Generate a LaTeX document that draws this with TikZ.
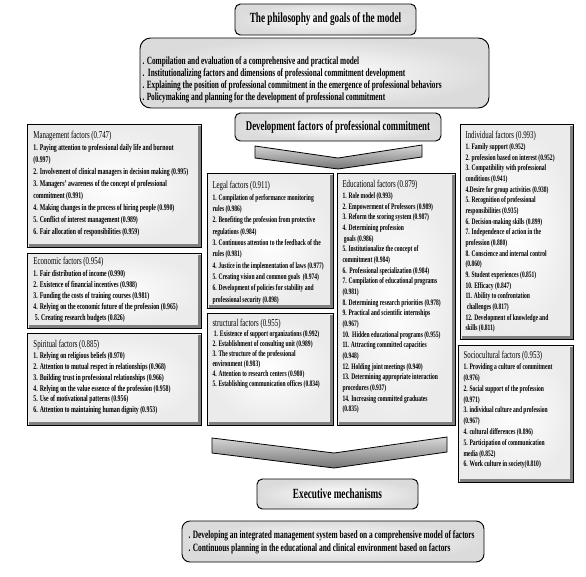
\documentclass[tikz,border=0pt]{standalone}
\usepackage{fontspec}
\setmainfont[FakeStretch=0.66]{Liberation Serif}
\tikzset{every picture/.style={line width=0.75pt}}
\tikzset{
  roundbox/.style={draw=black, line width=0.7, rounded corners=4, inner color=white, outer color=black!14},
  factorbox/.style={draw=black, line width=0.6, inner color=white, outer color=black!8},
  edgeshade/.style={draw=black!50, line width=1.8},
  chevron/.style={draw=black, line width=0.6, top color=black!15, bottom color=black!55},
  titletext/.style={inner sep=0, font=\fontsize{10.5}{12}\selectfont\bfseries},
  listtext/.style={inner sep=0, align=left, anchor=north west},
  factortext/.style={inner sep=0, align=left, anchor=north west}
}
\newcommand{\headline}[1]{{\mdseries\fontsize{7.8}{9}\selectfont #1}}

\begin{document}
\begin{tikzpicture}[x=0.75pt,y=0.75pt,yscale=-1,xscale=1]
\useasboundingbox (0,0) rectangle (586,576);

%Shape: Rounded Rect
\draw [roundbox] (235,4) rectangle (416,35);
% Text Node
\node (philo) [titletext] at (325.5,19.5) {The philosophy and goals of the model};

%Shape: Rounded Rect
\draw [roundbox, rounded corners=8] (140,38) rectangle (489,108);
% Text Node
\node (goals) [listtext, font=\fontsize{8.3}{9}\selectfont\bfseries] at (142,56) {. Compilation and evaluation of a comprehensive and practical model\\
.\ \ Institutionalizing factors and dimensions of professional commitment development\\
. Explaining the position of professional commitment in the emergence of professional behaviors\\
. Policymaking and planning for the development of professional commitment};

%Shape: Rounded Rect
\draw [roundbox] (235,113) rectangle (441,141);
% Text Node
\node (devel) [titletext, font=\fontsize{10}{12}\selectfont\bfseries] at (338,127) {Development factors of professional commitment};

%Shape: Chevron
\draw [chevron] (255,146) -- (338,158) -- (422,145) -- (422,157) -- (338,169) -- (255,158) -- cycle;

%Shape: Rectangle
\draw [factorbox] (27,124) rectangle (201,247);
\draw [edgeshade] (29,245.5) -- (199.5,245.5) -- (199.5,126);
% Text Node
\node (mgmt) [factortext, font=\fontsize{6.6}{9}\selectfont\bfseries] at (33,131) {\headline{Management factors (0.747)}\\
1. Paying attention to professional daily life and burnout\\
(0.997)\\
2. Involvement of clinical managers in decision making (0.995)\\
3. Managers' awareness of the concept of professional\\
commitment (0.991)\\
4. Making changes in the process of hiring people (0.990)\\
5. Conflict of interest management (0.989)\\
6. Fair allocation of responsibilities (0.959)};

%Shape: Rectangle
\draw [factorbox] (27,253) rectangle (201,328);
\draw [edgeshade] (29,326.5) -- (199.5,326.5) -- (199.5,255);
% Text Node
\node (econ) [factortext, font=\fontsize{6.6}{8.4}\selectfont\bfseries] at (33,257) {\headline{Economic factors (0.954)}\\
1. Fair distribution of income (0.990)\\
2. Existence of financial incentives (0.988)\\
3. Funding the costs of training courses (0.981)\\
4. Relying on the economic future of the profession (0.965)\\
\ 5. Creating research budgets (0.826)};

%Shape: Rectangle
\draw [factorbox] (27,333) rectangle (201,425);
\draw [edgeshade] (29,423.5) -- (199.5,423.5) -- (199.5,335);
% Text Node
\node (spirit) [factortext, font=\fontsize{6.6}{8.1}\selectfont\bfseries] at (33,340) {\headline{Spiritual factors (0.885)}\\
1. Relying on religious beliefs (0.970)\\
2. Attention to mutual respect in relationships (0.968)\\
3. Building trust in professional relationships (0.966)\\
4. Relying on the value essence of the profession (0.958)\\
5. Use of motivational patterns (0.956)\\
6. Attention to maintaining human dignity (0.953)};

%Shape: Rectangle
\draw [factorbox] (207,173) rectangle (333,308);
\draw [edgeshade] (209,306.5) -- (331.5,306.5) -- (331.5,175);
% Text Node
\node (legal) [factortext, font=\fontsize{6.3}{8.5}\selectfont\bfseries] at (212,181) {\headline{Legal factors (0.911)}\\
1. Compilation of performance monitoring\\
rules (0.986)\\
2. Benefiting the profession from protective\\
regulations (0.984)\\
3. Continuous attention to the feedback of the\\
rules (0.981)\\
4. Justice in the implementation of laws (0.977)\\
5. Creating vision and common goals\ \ (0.974)\\
6. Development of policies for stability and\\
professional security (0.898)};

%Shape: Rectangle
\draw [factorbox] (207,313) rectangle (333,425);
\draw [edgeshade] (209,423.5) -- (331.5,423.5) -- (331.5,315);
% Text Node
\node (struct) [factortext, font=\fontsize{6.3}{7.5}\selectfont\bfseries] at (212,319) {\headline{structural factors (0.955)}\\
\ 1. Existence of support organizations (0.992)\\
2. Establishment of consulting unit (0.989)\\
3. The structure of the professional\\
environment (0.983)\\
4. Attention to research centers (0.980)\\
5. Establishing communication offices (0.834)};

%Shape: Rectangle
\draw [factorbox] (337,173) rectangle (455,425);
\draw [edgeshade] (339,423.5) -- (453.5,423.5) -- (453.5,175);
% Text Node
\node (educ) [factortext, font=\fontsize{6.3}{8}\selectfont\bfseries] at (342,180) {\headline{Educational factors (0.879)}\\
1. Role model (0.993)\\
2. Empowerment of Professors (0.989)\\
3. Reform the scoring system (0.987)\\
4. Determining profession\\
\ goals (0.986)\\
5. Institutionalize the concept of\\
commitment (0.984)\\
6.\ \ Professional specialization (0.984)\\
7. Compilation of educational programs\\
(0.981)\\
8. Determining research priorities (0.978)\\
9. Practical and scientific internships\\
(0.967)\\
10.\ \ Hidden educational programs (0.955)\\
11. Attracting committed capacities\\
(0.948)\\
12. Holding joint meetings (0.940)\\
13. Determining appropriate interaction\\
procedures (0.937)\\
14. Increasing committed graduates\\
(0.835)};

%Shape: Rectangle
\draw [factorbox] (460,124) rectangle (573,339);
\draw [edgeshade] (462,337.5) -- (571.5,337.5) -- (571.5,126);
% Text Node
\node (indiv) [factortext, font=\fontsize{6.3}{8}\selectfont\bfseries] at (465,131) {\headline{Individual factors (0.993)}\\
1. Family support (0.952)\\
2. profession based on interest (0.952)\\
3. Compatibility with professional\\
conditions (0.941)\\
4.Desire for group activities (0.938)\\
5. Recognition of professional\\
responsibilities (0.935)\\
6. Decision-making skills (0.899)\\
7. Independence of action in the\\
profession (0.880)\\
8. Conscience and internal control\\
(0.860)\\
9. Student experiences (0.851)\\
10. Efficacy (0.847)\\
11. Ability to confrontation\\
\ challenges (0.817)\\
12. Development of knowledge and\\
skills (0.811)};

%Shape: Rectangle
\draw [factorbox] (458,345) rectangle (573,482);
\draw [edgeshade] (460,480.5) -- (571.5,480.5) -- (571.5,347);
% Text Node
\node (socio) [factortext, font=\fontsize{6.3}{8.1}\selectfont\bfseries] at (463,351) {\headline{Sociocultural factors (0.953)}\\
1. Providing a culture of commitment\\
(0.976)\\
2. Social support of the profession\\
(0.971)\\
3. individual culture and profession\\
(0.967)\\
4. cultural differences (0.896)\\
5. Participation of communication\\
media (0.852)\\
6. Work culture in society(0.810)};

%Shape: Chevron
\draw [chevron] (212,438) -- (334,453) -- (447,437) -- (447,452) -- (334,468) -- (212,453) -- cycle;

%Shape: Rounded Rect
\draw [roundbox] (257,479) rectangle (418,509);
% Text Node
\node (exec) [titletext, font=\fontsize{10.5}{12}\selectfont\bfseries] at (337.5,494) {Executive mechanisms};

%Shape: Rounded Rect
\draw [roundbox, rounded corners=6] (182,521) rectangle (484,562);
% Text Node
\node (plans) [listtext, font=\fontsize{8.4}{9.75}\selectfont\bfseries] at (188,530.5) {. Developing an integrated management system based on a comprehensive model of factors\\
. Continuous planning in the educational and clinical environment based on factors};

\end{tikzpicture}
\end{document}
